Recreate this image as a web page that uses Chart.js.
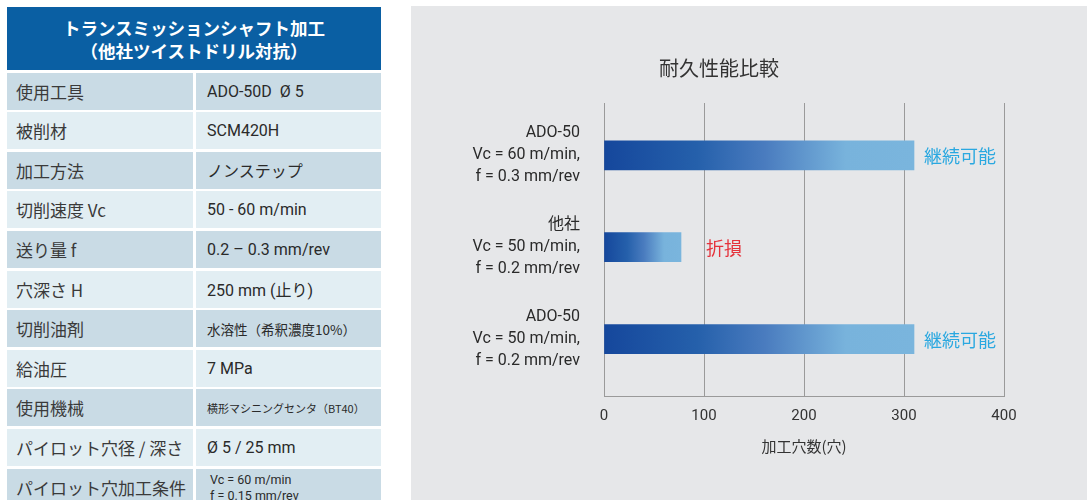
<!DOCTYPE html>
<html><head><meta charset="utf-8">
<script src="https://cdn.jsdelivr.net/npm/chart.js@4.4.0/dist/chart.umd.min.js"></script>
<style>
html,body{margin:0;padding:0;background:#fff;width:1087px;height:500px;overflow:hidden;}
#tbl{position:absolute;left:7px;top:7px;display:grid;grid-template-columns:186px 185px;column-gap:3px;row-gap:2.6px;grid-template-rows:63px repeat(11,37px);font-family:'Noto Sans CJK JP',sans-serif;}
.hd{grid-column:1 / 3;background:#0a5fa3;color:#fff;font-weight:bold;font-size:17.5px;line-height:23px;text-align:center;display:flex;align-items:center;justify-content:center;}
.c{display:flex;align-items:center;color:#3a3a3a;white-space:pre;}
.l{padding-left:9px;font-size:17px;}
.r{padding-left:11px;font-size:16px;font-family:Roboto,'Noto Sans CJK JP',sans-serif;color:#2a2a2a;}
.d{background:#c9dbe5}
.w{background:#e2eef3}
.s13{font-size:13.5px;font-family:'Noto Sans CJK JP',sans-serif;}
.s11{font-size:11px;font-family:'Noto Sans CJK JP',sans-serif;}
.two{font-size:12.5px;line-height:16px;align-items:flex-start;padding-top:3px;padding-left:14px;}
#panel{position:absolute;left:411px;top:6px;width:676px;height:494px;background:#e6e7e9;}
</style></head>
<body>
<div id="tbl"></div>
<div id="panel"><canvas id="c" width="676" height="494"></canvas></div>
<script>
// ---- table content ----
const tableTitle = ['トランスミッションシャフト加工', '（他社ツイストドリル対抗）'];
const tableKeys = ['使用工具','被削材','加工方法','切削速度 Vc','送り量 f','穴深さ H','切削油剤','給油圧','使用機械','パイロット穴径 / 深さ','パイロット穴加工条件'];
const tableValues = ['ADO-50D  Ø 5','SCM420H','ノンステップ','50 - 60 m/min','0.2 – 0.3 mm/rev','250 mm (止り)','水溶性（希釈濃度10%）','7 MPa','横形マシニングセンタ（BT40）','Ø 5 / 25 mm',['Vc = 60 m/min','f = 0.15 mm/rev']];
const valueClass = ['','','','','','','s13','','s11','','two'];

// ---- chart data ----
const chartTitle = '耐久性能比較';
const categories = [
  ['ADO-50','Vc = 60 m/min,','f = 0.3 mm/rev'],
  ['他社','Vc = 50 m/min,','f = 0.2 mm/rev'],
  ['ADO-50','Vc = 50 m/min,','f = 0.2 mm/rev']
];
const holeCounts = [310, 77, 310];
const resultLabels = ['継続可能','折損','継続可能'];
const xTicks = [0, 100, 200, 300, 400];
const xTitle = '加工穴数(穴)';

// build table
const tbl = document.getElementById('tbl');
const hd = document.createElement('div'); hd.className='hd';
hd.innerHTML = tableTitle.join('<br>'); tbl.appendChild(hd);
tableKeys.forEach((k,i)=>{
  const bg = i%2===0 ? 'd' : 'w';
  const a = document.createElement('div'); a.className='c l '+bg; a.textContent=k; tbl.appendChild(a);
  const b = document.createElement('div'); b.className='c r '+bg+' '+valueClass[i];
  const v = tableValues[i];
  if (Array.isArray(v)) { b.style.flexDirection='column'; v.forEach(t=>{const s=document.createElement('div'); s.textContent=t; b.appendChild(s);}); }
  else b.textContent = v;
  tbl.appendChild(b);
});

const FONT = "Roboto, 'Noto Sans CJK JP', sans-serif";
const CJK = "'Noto Sans CJK JP', sans-serif";

const resultLabelPlugin = {
  id: 'resultLabels',
  afterDatasetsDraw(chart, args, opts) {
    const ctx = chart.ctx;
    const meta = chart.getDatasetMeta(0);
    meta.data.forEach((bar, i) => {
      ctx.save();
      ctx.font = opts.font;
      ctx.fillStyle = opts.colors[resultLabels[i]];
      ctx.textBaseline = 'middle';
      ctx.textAlign = 'left';
      ctx.fillText(resultLabels[i], bar.x + opts.offsets[i], bar.y + 1);
      ctx.restore();
    });
  }
};

new Chart(document.getElementById('c'), {
  type: 'bar',
  data: {
    datasets: [{
      data: holeCounts.map((v, i) => ({ x: v, y: i })),
      barThickness: 29,
      borderWidth: 0,
      backgroundColor: (c) => {
        const chart = c.chart; const xs = chart.scales.x;
        if (c.type !== 'data' || !xs || !c.raw) return '#4a7cbf';
        const x0 = xs.getPixelForValue(0), x1 = xs.getPixelForValue(c.raw.x);
        if (!Number.isFinite(x0) || !Number.isFinite(x1) || x1 === x0) return '#4a7cbf';
        const g = chart.ctx.createLinearGradient(x0, 0, x1, 0);
        g.addColorStop(0, '#15479c');
        g.addColorStop(0.3, '#2560ab');
        g.addColorStop(0.52, '#4a7cbf');
        g.addColorStop(0.78, '#78b3dc');
        g.addColorStop(1, '#7ab5dd');
        return g;
      }
    }]
  },
  options: {
    indexAxis: 'y',
    responsive: false,
    animation: false,
    layout: { padding: { left: 23, right: 83, top: 0, bottom: 0 } },
    plugins: {
      legend: { display: false },
      tooltip: { enabled: false },
      title: { display: true, text: chartTitle, color: '#333', font: { family: CJK, size: 20, weight: 'normal', lineHeight: 1.2 }, padding: { top: 50, bottom: 23 } },
      resultLabels: { font: "18px 'Noto Sans CJK JP', sans-serif", colors: { '継続可能': '#2aa8e0', '折損': '#e5323b' }, offsets: [10, 25, 10] }
    },
    scales: {
      x: {
        type: 'linear', min: 0, max: 400,
        afterBuildTicks: s => { s.ticks = xTicks.map(v => ({ value: v })); },
        afterFit: s => { s.height = 104; },
        grid: { color: '#9a9a9a', drawTicks: false, lineWidth: 1 },
        border: { display: true, color: '#9a9a9a', width: 1 },
        ticks: { padding: 11, color: '#333', font: { family: FONT, size: 15 } },
        title: { display: true, text: xTitle, color: '#333', font: { family: CJK, size: 15 }, padding: { top: 0, bottom: 45 } }
      },
      y: {
        type: 'linear', reverse: true, min: -0.57, max: 2.62, offset: false,
        afterBuildTicks: s => { s.ticks = categories.map((_, i) => ({ value: i })); },
        afterFit: s => { s.width = 170; },
        grid: { display: false, drawTicks: false, offset: false },
        border: { display: true, color: '#9a9a9a', width: 1 },
        ticks: { autoSkip: false, padding: 24, color: '#2a2a2a', font: { family: FONT, size: 16, lineHeight: 1.37 }, callback: v => categories[v] }
      }
    }
  },
  plugins: [resultLabelPlugin]
});
</script>
</body></html>
